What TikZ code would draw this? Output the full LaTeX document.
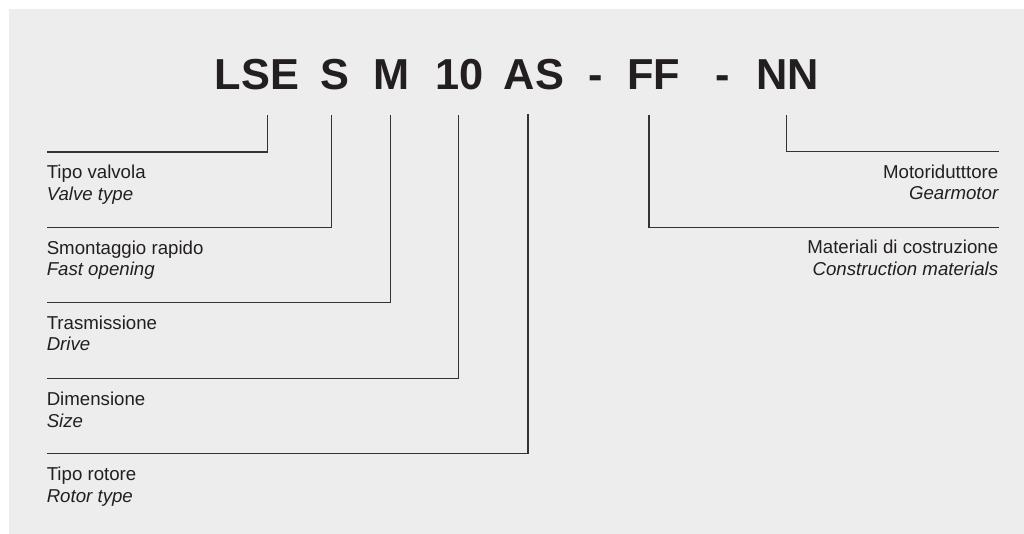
\documentclass[tikz,border=0pt]{standalone}
\usepackage{fontspec}
\setmainfont{Liberation Sans}
\definecolor{bgcol}{HTML}{EDEDED}
\definecolor{ink}{HTML}{231F20}
\definecolor{linecol}{HTML}{333333}
\begin{document}
\begin{tikzpicture}[x=0.75pt,y=-0.75pt,
  code/.style={inner sep=0pt,anchor=base,text=ink,font=\fontsize{32.5}{39}\selectfont\bfseries},
  lab/.style={inner sep=0pt,text=ink,font=\fontsize{14}{16.5}\selectfont},
  labl/.style={lab,anchor=base west},
  labr/.style={lab,anchor=base east},
  conn/.style={draw=linecol,line width=0.95pt,line join=miter}]
\useasboundingbox (0,0) rectangle (1024,534);
\fill[bgcol] (9,9) rectangle (1024,534);
% code tokens
\node[code] (lse) at (257,90) {LSE};
\node[code] (s)   at (335,90) {S};
\node[code] (m)   at (391.5,90) {M};
\node[code] (n10) at (460,90) {10};
\node[code] (as)  at (534,90) {AS};
\node[code] (d1)  at (596,90) {-};
\node[code] (ff)  at (653.5,90) {FF};
\node[code] (d2)  at (723,90) {-};
\node[code] (nn)  at (787.5,90) {NN};
% tick tops
\coordinate (t1) at (267.3,115);
\coordinate (t2) at (331.7,115);
\coordinate (t3) at (390.3,115);
\coordinate (t4) at (458.3,115);
\coordinate (t5) at (528,114);
\coordinate (t6) at (649,115);
\coordinate (t7) at (786.8,115);
% line ends
\coordinate (e1) at (47,152);
\coordinate (e2) at (47,227.3);
\coordinate (e3) at (47,302.5);
\coordinate (e4) at (47,378.5);
\coordinate (e5) at (47,453.5);
\coordinate (e6) at (998.5,227.3);
\coordinate (e7) at (998.5,151.7);
\draw[conn] (t1) |- (e1);
\draw[conn] (t2) |- (e2);
\draw[conn] (t3) |- (e3);
\draw[conn] (t4) |- (e4);
\draw[conn] (t5) |- (e5);
\draw[conn] (t6) |- (e6);
\draw[conn] (t7) |- (e7);
% labels left
\node[labl] (a1) at (46.5,179) {Tipo valvola};
\node[labl] (b1) at (46.5,200.5) {\itshape Valve type};
\node[labl] (a2) at (46.5,254.3) {Smontaggio rapido};
\node[labl] (b2) at (46.5,275.8) {\itshape Fast opening};
\node[labl] (a3) at (46.5,329.5) {Trasmissione};
\node[labl] (b3) at (46.5,351) {\itshape Drive};
\node[labl] (a4) at (46.5,405.5) {Dimensione};
\node[labl] (b4) at (46.5,427) {\itshape Size};
\node[labl] (a5) at (46.5,480.5) {Tipo rotore};
\node[labl] (b5) at (46.5,502) {\itshape Rotor type};
% labels right
\node[labr] (a7) at (998.5,178.5) {Motoridutttore};
\node[labr] (b7) at (998.5,200) {\itshape Gearmotor};
\node[labr] (a6) at (998.5,254) {Materiali di costruzione};
\node[labr] (b6) at (998.5,275.7) {\itshape Construction materials};
\end{tikzpicture}
\end{document}
